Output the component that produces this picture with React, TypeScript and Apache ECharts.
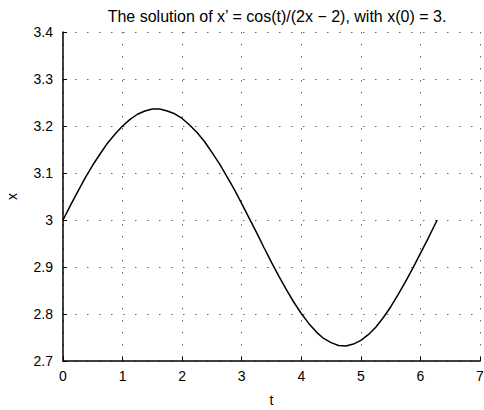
import React, { useEffect, useRef } from "react";
import * as echarts from "echarts";

const tValues = [
  0, 0.125, 0.25, 0.375, 0.5, 0.625, 0.75, 0.875, 1.0, 1.125, 1.25, 1.375, 1.5, 1.625, 1.75, 1.875,
  2.0, 2.125, 2.25, 2.375, 2.5, 2.625, 2.75, 2.875, 3.0, 3.125, 3.25, 3.375, 3.5, 3.625, 3.75, 3.875,
  4.0, 4.125, 4.25, 4.375, 4.5, 4.625, 4.75, 4.875, 5.0, 5.125, 5.25, 5.375, 5.5, 5.625, 5.75, 5.875,
  6.0, 6.125, 6.25, 6.283,
];
const xValues = [
  3.0, 3.031, 3.061, 3.09, 3.117, 3.141, 3.164, 3.183, 3.2, 3.214, 3.225, 3.232, 3.236, 3.236, 3.232, 3.226,
  3.216, 3.202, 3.186, 3.167, 3.144, 3.12, 3.093, 3.065, 3.035, 3.004, 2.973, 2.941, 2.91, 2.88, 2.852, 2.825,
  2.801, 2.78, 2.762, 2.748, 2.739, 2.733, 2.732, 2.736, 2.744, 2.756, 2.772, 2.792, 2.815, 2.841, 2.869, 2.898,
  2.929, 2.96, 2.992, 3.0,
];
const titleText = "The solution of x\u2019 = cos(t)/(2x \u2212 2), with x(0) = 3.";
const xAxisName = "t";
const yAxisName = "x";

const FONT = "'Liberation Sans', Arial, Helvetica, sans-serif";

export default function App() {
  const ref = useRef<HTMLDivElement>(null);
  useEffect(() => {
    if (!ref.current) return;
    const chart = echarts.init(ref.current, null, { renderer: "svg" });
    const data = tValues.map((t, i) => [t, xValues[i]]);
    const grid = { type: [1.5, 10.5], color: "#666", width: 1 };
    chart.setOption({
      animation: false,
      backgroundColor: "#fff",
      textStyle: { fontFamily: FONT },
      title: {
        text: titleText,
        left: 272,
        top: 3,
        textAlign: "center",
        textStyle: { fontSize: 16, fontWeight: "normal", color: "#000", fontFamily: FONT },
      },
      grid: { left: 63, right: 4, top: 32, bottom: 49, containLabel: false, outerBoundsMode: "none" },
      xAxis: {
        type: "value",
        min: 0,
        max: 7,
        interval: 1,
        name: xAxisName,
        nameLocation: "middle",
        nameGap: 32,
        nameTextStyle: { fontSize: 14, color: "#000", fontFamily: FONT },
        axisLine: { show: true, onZero: false, lineStyle: { color: "#000", width: 1.5 } },
        axisTick: { show: true, inside: true, length: 4, lineStyle: { color: "#000" } },
        axisLabel: { fontSize: 14, color: "#000", margin: 8, fontFamily: FONT },
        splitLine: { show: true, lineStyle: grid },
      },
      yAxis: {
        type: "value",
        min: 2.7,
        max: 3.4,
        interval: 0.1,
        name: yAxisName,
        nameLocation: "middle",
        nameGap: 44,
        nameRotate: 90,
        nameTextStyle: { fontSize: 14, color: "#000", fontFamily: FONT },
        axisLine: { show: true, onZero: false, lineStyle: { color: "#000", width: 1.5 } },
        axisTick: { show: true, inside: true, length: 4, lineStyle: { color: "#000" } },
        axisLabel: {
          fontSize: 14,
          color: "#000",
          margin: 10,
          fontFamily: FONT,
          formatter: (v: number) => String(Number(v.toFixed(1))),
        },
        splitLine: { show: true, lineStyle: grid },
      },
      series: [
        {
          type: "line",
          data,
          smooth: false,
          showSymbol: false,
          lineStyle: { color: "#000", width: 1.5 },
        },
      ],
    });
    return () => chart.dispose();
  }, []);
  return (
    <div
      ref={ref}
      style={{ position: "fixed", left: 0, top: 0, width: 484, height: 410 }}
    />
  );
}
